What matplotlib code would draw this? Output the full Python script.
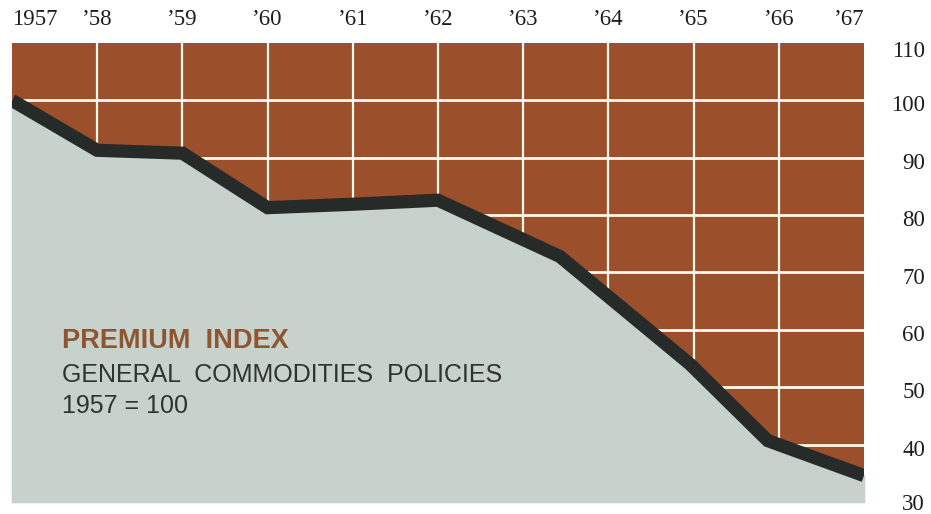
import matplotlib
matplotlib.use("Agg")
import matplotlib.pyplot as plt
import matplotlib.transforms as mtransforms

# ---- data ----
years = [1957, 1958, 1959, 1960, 1961, 1962, 1963.43, 1964.96, 1965.87, 1967]
index = [100.0, 91.3, 90.8, 81.3, 81.9, 82.6, 72.8, 54.0, 40.7, 34.6]

year_ticks = list(range(1957, 1968))
year_labels = ["1957", "\u201958", "\u201959", "\u201960", "\u201961", "\u201962",
               "\u201963", "\u201964", "\u201965", "\u201966", "\u201967"]
value_ticks = [30, 40, 50, 60, 70, 80, 90, 100, 110]
value_labels = [str(v) for v in value_ticks]

title_line = "PREMIUM  INDEX"
sub_line = "GENERAL  COMMODITIES  POLICIES"
base_line = "1957 = 100"

# ---- styles ----
BROWN = "#9b4f2b"
GRID = "#fff8ec"
FILL = "#c8d2cd"
LINE = "#262a28"
TXT_BROWN = "#8e5532"
TXT_DARK = "#2f3431"
TICK = "#1e1e1e"

W, H = 931, 514
fig = plt.figure(figsize=(W / 100, H / 100), dpi=100)
fig.patch.set_facecolor("white")
ax = fig.add_axes([12 / W, 12 / H, 852 / W, 459 / H])
ax.set_facecolor(BROWN)
for s in ax.spines.values():
    s.set_visible(False)

ax.set_xlim(year_ticks[0], year_ticks[-1])
ax.set_ylim(value_ticks[0], value_ticks[-1])

# grid lines (interior only)
for yr in year_ticks[1:-1]:
    ax.axvline(yr, color=GRID, lw=1.6, zorder=0.5)
for v in value_ticks[1:-1]:
    ax.axhline(v, color=GRID, lw=2.0, zorder=0.5)

# area + thick line
ax.fill_between(years, index, value_ticks[0], facecolor=FILL, edgecolor=FILL,
                lw=1.2, zorder=1, clip_on=False)
ax.plot(years, index, color=LINE, lw=9.5, solid_joinstyle="miter",
        solid_capstyle="butt", zorder=2)

# top year labels
ax.xaxis.tick_top()
ax.set_xticks(year_ticks)
ax.set_xticklabels(year_labels, family="Liberation Serif", fontsize=16.5, color=TICK)
ax.tick_params(axis="x", length=0, pad=9.5)
xl = ax.get_xticklabels()
xl[0].set_ha("left")
xl[-1].set_ha("right")

# right value labels
ax.yaxis.tick_right()
ax.set_yticks(value_ticks)
ax.set_yticklabels(value_labels, family="Liberation Serif", fontsize=16.5, color=TICK)
ax.tick_params(axis="y", length=0, pad=44)
ylabels = ax.get_yticklabels()
for i, lbl in enumerate(ylabels):
    lbl.set_ha("right")
    dy = 0 if i == 0 else (-6 if i == len(ylabels) - 1 else -3)
    off = mtransforms.ScaledTranslation(0, dy / 100, fig.dpi_scale_trans)
    lbl.set_transform(lbl.get_transform() + off)

# inner legend text
ax.text(0.0587, 0.3355, title_line, transform=ax.transAxes, family="Liberation Sans",
        fontsize=19.5, fontweight="bold", color=TXT_BROWN, va="baseline", ha="left", zorder=3)
ax.text(0.0587, 0.2614, sub_line, transform=ax.transAxes, family="Liberation Sans",
        fontsize=18, color=TXT_DARK, va="baseline", ha="left", zorder=3)
ax.text(0.0587, 0.1939, base_line, transform=ax.transAxes, family="Liberation Sans",
        fontsize=18, color=TXT_DARK, va="baseline", ha="left", zorder=3)

fig.savefig("out.png", dpi=100)
